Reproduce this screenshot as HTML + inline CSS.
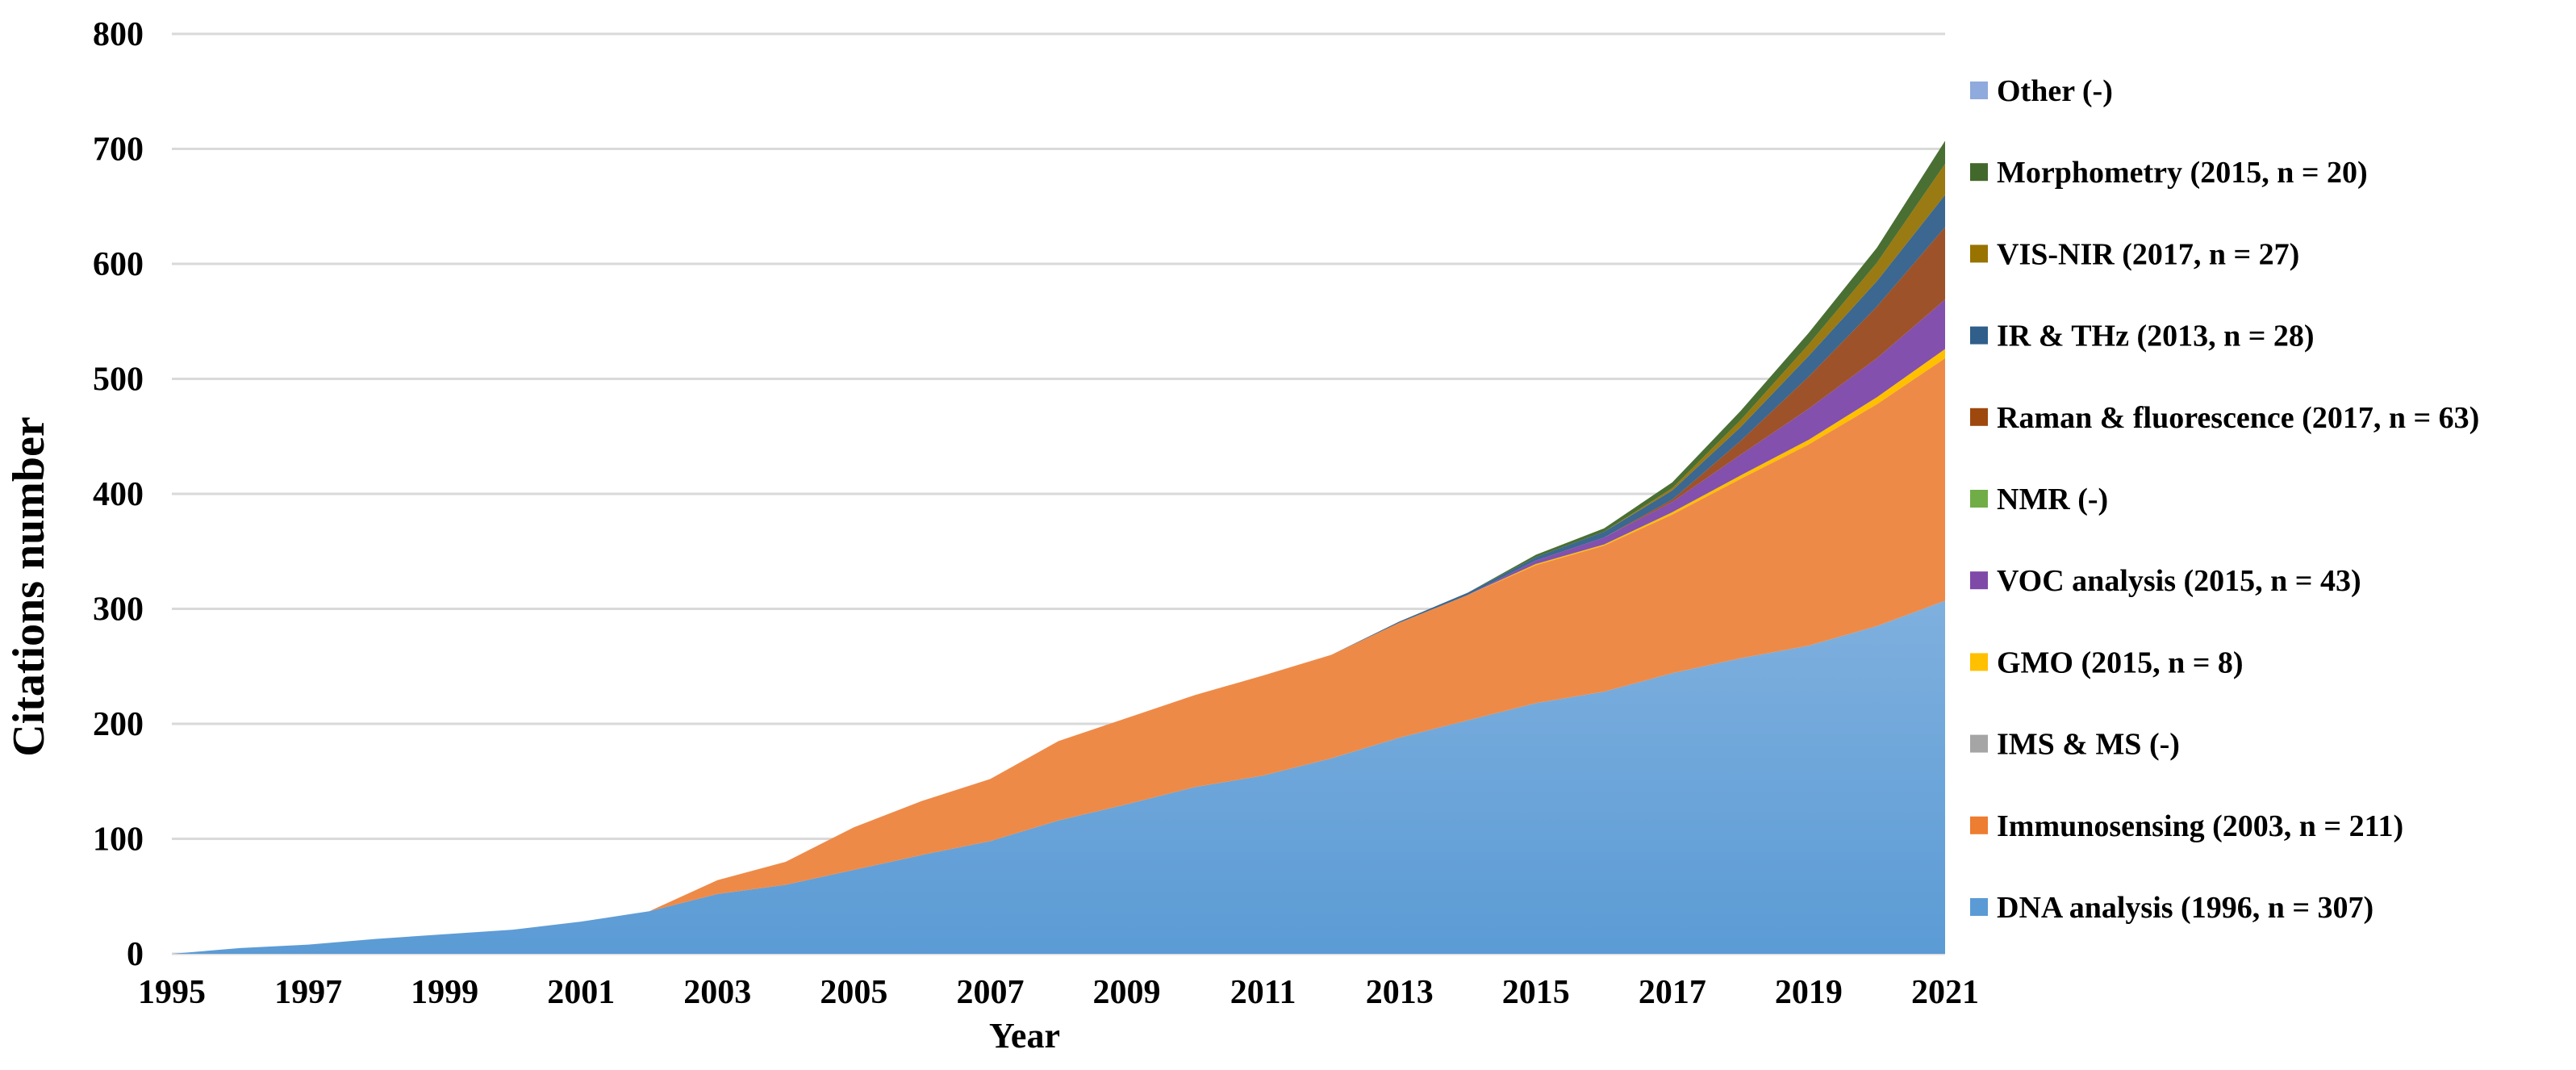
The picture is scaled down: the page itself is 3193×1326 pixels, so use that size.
<!DOCTYPE html>
<html><head><meta charset="utf-8"><style>
html,body{margin:0;padding:0;background:#fff;}
svg{display:block;font-family:"Liberation Serif",serif;font-weight:bold;}
</style></head><body>
<svg id="chart" width="3193" height="1326" viewBox="0 0 3193 1326">
<defs>
<linearGradient id="gDNA" x1="0" y1="0" x2="0" y2="1"><stop offset="0" stop-color="#7fb0de"/><stop offset="1" stop-color="#5b9bd5"/></linearGradient>
</defs>
<g id="grid"></g>
<g id="areas"></g>
<g id="yticks"></g>
<g id="xticks"></g>
<text x="1270" y="1298" font-size="44" text-anchor="middle">Year</text>
<text transform="translate(54,727) rotate(-90)" font-size="56" text-anchor="middle">Citations number</text>
<g id="legend"></g>
</svg>
<script>
const years = [1995,1996,1997,1998,1999,2000,2001,2002,2003,2004,2005,2006,2007,2008,2009,2010,2011,2012,2013,2014,2015,2016,2017,2018,2019,2020,2021];
const seriesNames = ["DNA analysis (1996, n = 307)","Immunosensing (2003, n = 211)","IMS & MS (-)","GMO (2015, n = 8)","VOC analysis (2015, n = 43)","NMR (-)","Raman & fluorescence (2017, n = 63)","IR & THz (2013, n = 28)","VIS-NIR (2017, n = 27)","Morphometry (2015, n = 20)","Other (-)"];
const seriesColors = ["url(#gDNA)","#ee8a48","#a5a5a5","#ffc000","#8350ad","#70ad47","#9e5229","#3b6790","#9a7a12","#4a6f33","#8faadc"];
const legendColors = ["#5b9bd5","#ed7d31","#a5a5a5","#ffc000","#7f49a8","#70ad47","#9e480e","#2f5f8a","#997300","#43682b","#8faadc"];
const dna     = [0,5,8,13,17,21,28,37,52,60,73,86,98,116,130,145,155,170,188,203,218,228,244,257,268,285,307];
const immuno  = [0,0,0,0,0,0,0,0,12,20,37,47,54,69,75,80,87,90,100,109,120,127,138,156,175,193,211];
const ims     = [0,0,0,0,0,0,0,0,0,0,0,0,0,0,0,0,0,0,0,0,0,0,0,0,0,0,0];
const gmo     = [0,0,0,0,0,0,0,0,0,0,0,0,0,0,0,0,0,0,0,0,1,1,2,3,4,6,8];
const voc     = [0,0,0,0,0,0,0,0,0,0,0,0,0,0,0,0,0,0,0,0,3,6,9,18,27,34,43];
const nmr     = [0,0,0,0,0,0,0,0,0,0,0,0,0,0,0,0,0,0,0,0,0,0,0,0,0,0,0];
const raman   = [0,0,0,0,0,0,0,0,0,0,0,0,0,0,0,0,0,0,0,0,0,0,2,12,28,45,63];
const irthz   = [0,0,0,0,0,0,0,0,0,0,0,0,0,0,0,0,0,0,1,2,3,5,8,12,18,22,28];
const visnir  = [0,0,0,0,0,0,0,0,0,0,0,0,0,0,0,0,0,0,0,0,0,0,2,6,10,16,27];
const morph   = [0,0,0,0,0,0,0,0,0,0,0,0,0,0,0,0,0,0,0,0,2,3,5,8,10,13,20];
const other   = [0,0,0,0,0,0,0,0,0,0,0,0,0,0,0,0,0,0,0,0,0,0,0,0,0,0,0];
const yTicks = [0,100,200,300,400,500,600,700,800];
const xTickLabels = [1995,1997,1999,2001,2003,2005,2007,2009,2011,2013,2015,2017,2019,2021];

const series = [dna,immuno,ims,gmo,voc,nmr,raman,irthz,visnir,morph,other];
const X0=213, X1=2411, Y0=1182, Y1=42, YMAX=800;
const xS = y => X0 + (y - years[0])/(years[years.length-1]-years[0])*(X1-X0);
const yS = v => Y0 - v/YMAX*(Y0-Y1);
const NS="http://www.w3.org/2000/svg";
function mk(tag,attrs,parent){const e=document.createElementNS(NS,tag);for(const k in attrs)e.setAttribute(k,attrs[k]);parent.appendChild(e);return e;}

const grid=document.getElementById('grid'), yt=document.getElementById('yticks');
yTicks.forEach(v=>{
  const l=mk('line',{x1:X0,x2:X1,y1:yS(v),y2:yS(v),stroke:'#d9d9d9','stroke-width':3},grid);
  
  
  const t=mk('text',{x:178,y:yS(v)+14,'font-size':42,'text-anchor':'end'},yt);
  t.textContent=v;
  
  
});
const xt=document.getElementById('xticks');
xTickLabels.forEach(y=>{
  const t=mk('text',{x:xS(y),y:1243,'font-size':42,'text-anchor':'middle'},xt);
  t.textContent=y;
  
  
});
const areas=document.getElementById('areas');
let base=years.map(()=>0);
series.forEach((s,i)=>{
  const top=base.map((b,j)=>b+s[j]);
  let d='M'+years.map((y,j)=>xS(y)+','+yS(top[j])).join(' L');
  for(let j=years.length-1;j>=0;j--) d+=' L'+xS(years[j])+','+yS(base[j]);
  d+=' Z';
  const p=mk('path',{d:d,fill:seriesColors[i]},areas);
  
  
  base=top;
});
const lg=document.getElementById('legend');
for(let i=0;i<seriesNames.length;i++){
  const k=seriesNames.length-1-i;
  const yy=112+i*101.2;
  const r=mk('rect',{x:2442,y:yy-11,width:22,height:22,fill:legendColors[k]},lg);
  
  
  const t=mk('text',{x:2475,y:yy+13,'font-size':38},lg);
  t.textContent=seriesNames[k];
  
  
}
</script>
</body></html>
